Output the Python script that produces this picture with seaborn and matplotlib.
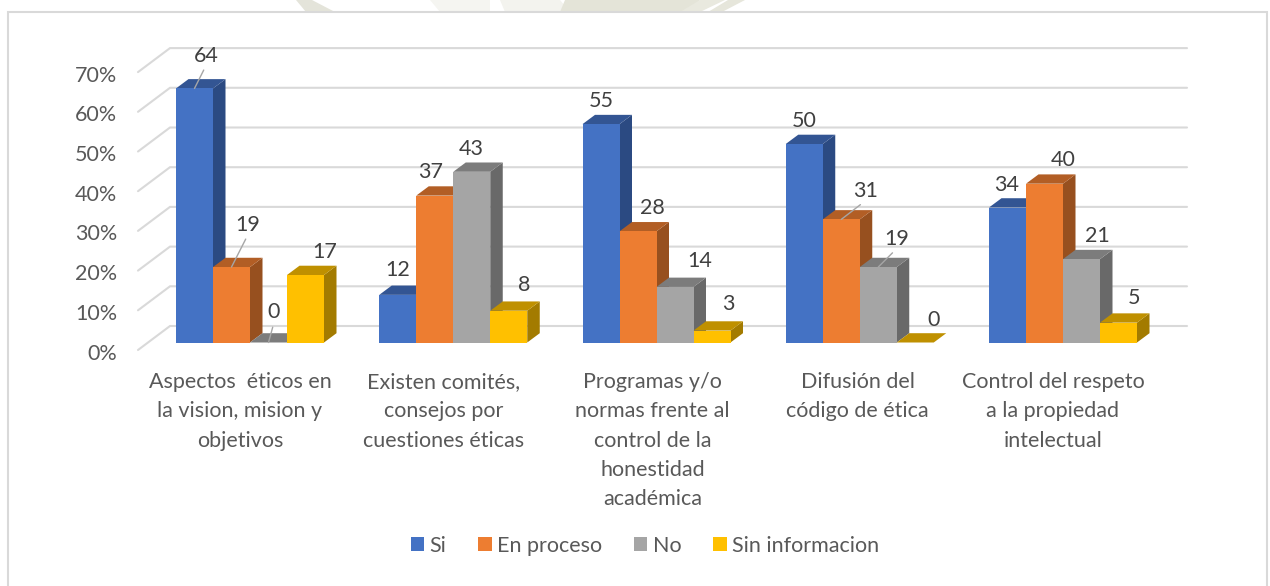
import matplotlib
matplotlib.use("Agg")
import matplotlib.pyplot as plt
import seaborn as sns
import pandas as pd
from matplotlib.patches import Polygon, Rectangle
from matplotlib.transforms import ScaledTranslation

categories = [
    "Aspectos  éticos en\nla vision, mision y\nobjetivos",
    "Existen comités,\nconsejos por\ncuestiones éticas",
    "Programas y/o\nnormas frente al\ncontrol de la\nhonestidad\nacadémica",
    "Difusión del\ncódigo de ética",
    "Control del respeto\na la propiedad\nintelectual",
]
si = [64, 12, 55, 50, 34]
en_proceso = [19, 37, 28, 31, 40]
no = [0, 43, 14, 19, 21]
sin_info = [17, 8, 3, 0, 5]
series_names = ["Si", "En proceso", "No", "Sin informacion"]
y_ticks = [0, 10, 20, 30, 40, 50, 60, 70]

front_cols = ["#4472C4", "#ED7D31", "#A5A5A5", "#FFC000"]
top_cols = ["#335593", "#B25E25", "#7C7C7C", "#BF9000"]
side_cols = ["#2B4A82", "#97501F", "#696969", "#A37B00"]

# label offsets from the top of each bar, in pixels (group, series)
label_off = [
    [(11.5, 32.9), (16.5, 42.5), (5.5, 30), (19.5, 23.5)],
    [(0, 24.5), (-4, 23.5), (-1, 22.5), (15, 26)],
    [(0, 23), (14, 23.3), (25, 25.5), (16, 26.1)],
    [(-0.5, 23.5), (24.5, 28.9), (18.5, 28.5), (18.5, 22)],
    [(-0.5, 23), (18.5, 24.2), (15.5, 23.5), (15.5, 24.2)],
]
leaders = [(0, 0), (0, 1), (0, 2), (3, 1), (3, 2)]
cat_shift = [-10, -10, -4, -2, -10]

# bits of the page watermark showing above the chart frame, pixels
wm_shapes = [
    ([(296, 0), (312, 0), (335, 12), (306, 12)], "#E4E4DA"),
    ([(430, 0), (490, 0), (490, 12), (440, 12)], "#F5F5F1"),
    ([(500, 0), (560, 0), (570, 12), (505, 12)], "#F3F3EE"),
    ([(565, 0), (700, 0), (690, 12), (560, 12)], "#E4E4D8"),
    ([(700, 0), (725, 0), (700, 12), (680, 12)], "#E9E9DF"),
    ([(728, 0), (745, 0), (722, 12), (708, 12)], "#E6E6DB"),
]

W, H = 1270, 586
px_x = 203.25  # pixels per category
px_y = 3.97    # pixels per percent
base_y = 342.5
cat0_x = 250
fs = 15.5

sns.set_theme(style="white")
plt.rcParams["font.family"] = ["Lato", "DejaVu Sans"]

df = pd.DataFrame({"cat": categories, "Si": si, "En proceso": en_proceso, "No": no, "Sin informacion": sin_info})
df_melt = df.melt(id_vars="cat", var_name="serie", value_name="valor")

fig = plt.figure(figsize=(12.7, 5.86), dpi=100)
fig.patch.set_facecolor("white")
for pts, col in wm_shapes:
    fig.add_artist(Polygon([(x / W, 1 - y / H) for x, y in pts], transform=fig.transFigure,
                           fc=col, ec="none", zorder=-3))
fig.add_artist(Rectangle((8 / W, 1 - 590 / H), 1259 / W, 578 / H, transform=fig.transFigure,
                         fc="white", ec="#D9D9D9", lw=1.5, zorder=-2))

left, right, top, bottom = 138, 1187, 20, 352
ax = fig.add_axes([left / W, 1 - bottom / H, (right - left) / W, (bottom - top) / H])
sns.barplot(data=df_melt, x="cat", y="valor", hue="serie", hue_order=series_names,
            palette=front_cols, width=148 / px_x, gap=0, dodge=True, saturation=1,
            errorbar=None, legend=False, ax=ax)
ax.set_xlim((left - cat0_x) / px_x, (right - cat0_x) / px_x)
ax.set_ylim((base_y - bottom) / px_y, (base_y - top) / px_y)
ax.patch.set_alpha(0)
ax.set_xlabel("")
ax.set_ylabel("")
sns.despine(ax=ax, left=True, bottom=True, right=True, top=True)

# back wall grid
wall_dx, wall_dy = 32 / px_x, 24 / px_y
tick_drop = 7.5 / px_y
x0 = ax.get_xlim()[0]
x1 = ax.get_xlim()[1]
for v in y_ticks:
    ax.plot([x0, x0 + wall_dx, x1], [v - tick_drop, v - tick_drop + wall_dy, v - tick_drop + wall_dy],
            color="#D9D9D9", lw=1.5, zorder=1, clip_on=False, solid_joinstyle="miter")

# depth faces of each bar, built on the bars seaborn drew
dx, dy = 12.5 / px_x, 9.3 / px_y
for s, cont in enumerate(ax.containers):
    for c, bar in enumerate(cont):
        bx = bar.get_x()
        bw = bar.get_width()
        bh = bar.get_height()
        z = 2 + s * 3
        side = Polygon([(bx + bw, 0), (bx + bw + dx, dy), (bx + bw + dx, bh + dy), (bx + bw, bh)],
                       fc=side_cols[s], ec="none", zorder=z)
        cap = Polygon([(bx, bh), (bx + dx, bh + dy), (bx + bw + dx, bh + dy), (bx + bw, bh)],
                      fc=top_cols[s], ec="none", zorder=z + 1)
        ax.add_patch(side)
        ax.add_patch(cap)
        bar.set_zorder(z + 2)
        bar.set_linewidth(0)
        arrow = None
        if (c, s) in leaders:
            arrow = dict(arrowstyle="-", color="#A6A6A6", lw=1, shrinkA=1, shrinkB=0, relpos=(0.5, 0))
        ox, oy = label_off[c][s]
        ax.annotate(str(int(bh)), xy=(bx + bw / 2, bh), xytext=(ox, oy),
                    textcoords="offset pixels", ha="center", va="center",
                    fontsize=fs, color="#404040", arrowprops=arrow, zorder=30)

# axis labels
ax.set_yticks(y_ticks, [f"{v}%" for v in y_ticks])
ax.tick_params(axis="y", length=0, pad=15, labelsize=fs, labelcolor="#595959")
ax.tick_params(axis="x", length=0, pad=14.5, labelsize=fs, labelcolor="#595959")
down = ScaledTranslation(0, -9 / 100, fig.dpi_scale_trans)
for lab in ax.get_yticklabels():
    lab.set_transform(lab.get_transform() + down)
for lab, shift in zip(ax.get_xticklabels(), cat_shift):
    lab.set_linespacing(1.58)
    lab.set_transform(lab.get_transform() + ScaledTranslation(shift / 100, 0, fig.dpi_scale_trans))

handles = [Rectangle((0, 0), 1, 1, fc=col, ec="none") for col in front_cols]
fig.legend(handles, series_names, loc="center", bbox_to_anchor=(645 / W, 1 - 546 / H), ncol=4,
           frameon=False, fontsize=fs, labelcolor="#595959", handlelength=0.62, handleheight=0.62,
           handletextpad=0.26, columnspacing=1.47)

fig.savefig("out.png", dpi=100)
